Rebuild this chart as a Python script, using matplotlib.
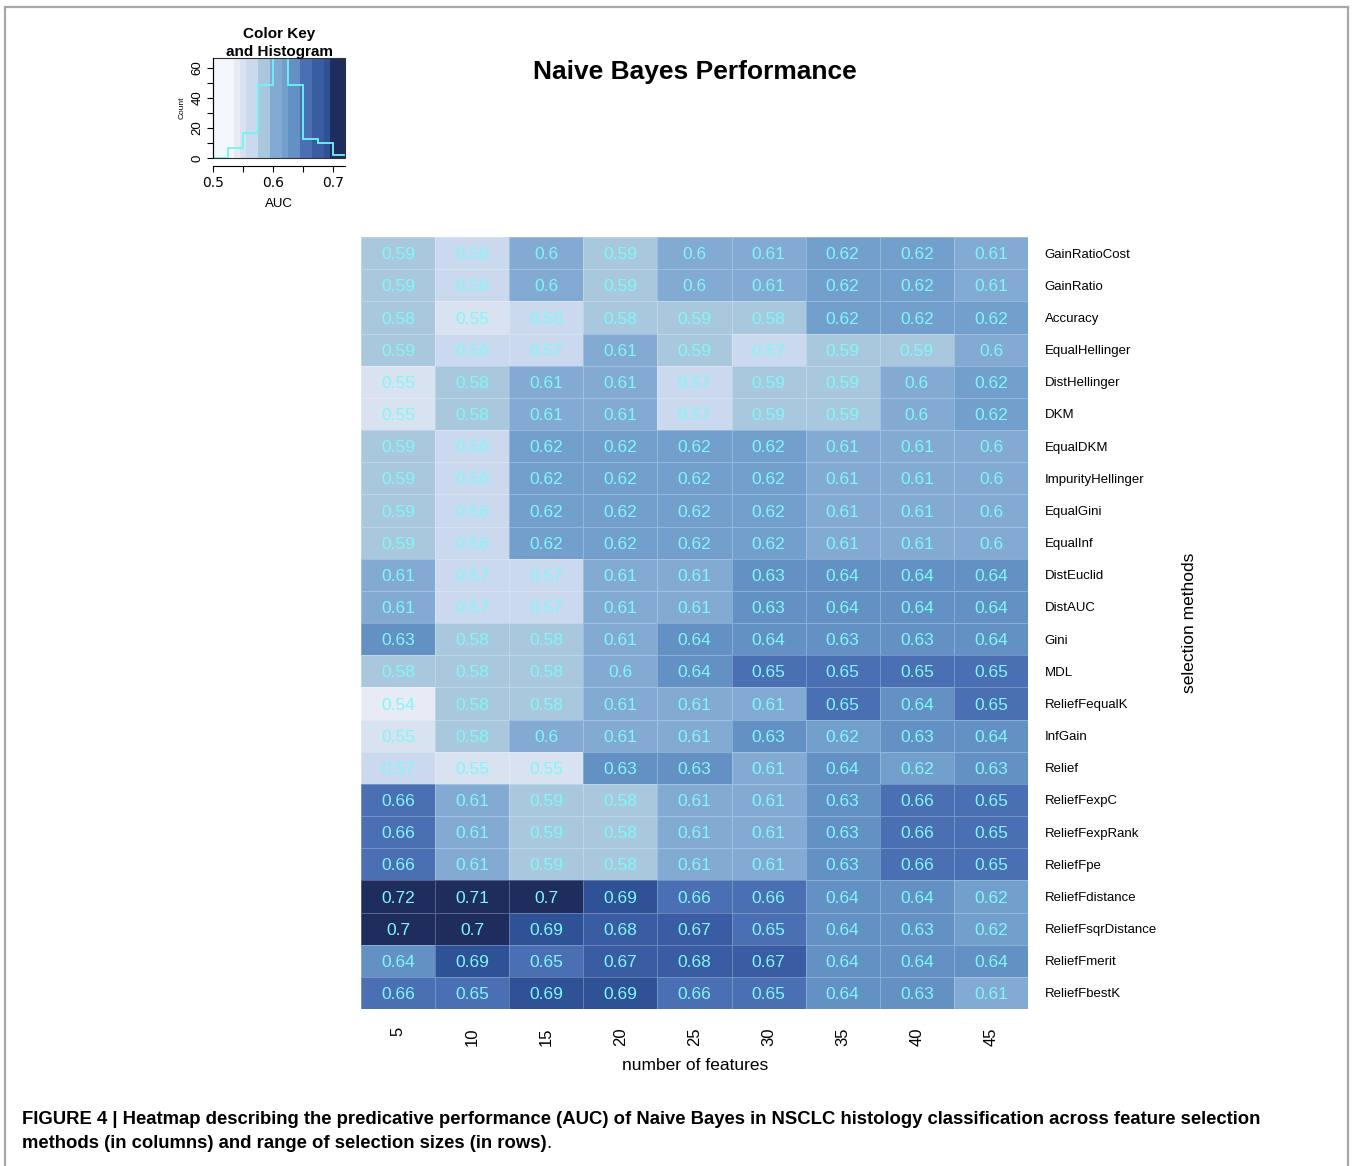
import numpy as np
import matplotlib.pyplot as plt
from matplotlib.colors import ListedColormap, BoundaryNorm
from matplotlib.lines import Line2D

# number of selected features (columns)
n_features = [5, 10, 15, 20, 25, 30, 35, 40, 45]

# feature selection methods (rows, top to bottom)
methods = ["GainRatioCost", "GainRatio", "Accuracy", "EqualHellinger",
           "DistHellinger", "DKM", "EqualDKM", "ImpurityHellinger",
           "EqualGini", "EqualInf", "DistEuclid", "DistAUC", "Gini", "MDL",
           "ReliefFequalK", "InfGain", "Relief", "ReliefFexpC",
           "ReliefFexpRank", "ReliefFpe", "ReliefFdistance",
           "ReliefFsqrDistance", "ReliefFmerit", "ReliefFbestK"]

# AUC of naive bayes per method / selection size
auc = [
    [0.59, 0.56, 0.60, 0.59, 0.60, 0.61, 0.62, 0.62, 0.61],
    [0.59, 0.56, 0.60, 0.59, 0.60, 0.61, 0.62, 0.62, 0.61],
    [0.58, 0.55, 0.56, 0.58, 0.59, 0.58, 0.62, 0.62, 0.62],
    [0.59, 0.56, 0.57, 0.61, 0.59, 0.57, 0.59, 0.59, 0.60],
    [0.55, 0.58, 0.61, 0.61, 0.57, 0.59, 0.59, 0.60, 0.62],
    [0.55, 0.58, 0.61, 0.61, 0.57, 0.59, 0.59, 0.60, 0.62],
    [0.59, 0.56, 0.62, 0.62, 0.62, 0.62, 0.61, 0.61, 0.60],
    [0.59, 0.56, 0.62, 0.62, 0.62, 0.62, 0.61, 0.61, 0.60],
    [0.59, 0.56, 0.62, 0.62, 0.62, 0.62, 0.61, 0.61, 0.60],
    [0.59, 0.56, 0.62, 0.62, 0.62, 0.62, 0.61, 0.61, 0.60],
    [0.61, 0.57, 0.57, 0.61, 0.61, 0.63, 0.64, 0.64, 0.64],
    [0.61, 0.57, 0.57, 0.61, 0.61, 0.63, 0.64, 0.64, 0.64],
    [0.63, 0.58, 0.58, 0.61, 0.64, 0.64, 0.63, 0.63, 0.64],
    [0.58, 0.58, 0.58, 0.60, 0.64, 0.65, 0.65, 0.65, 0.65],
    [0.54, 0.58, 0.58, 0.61, 0.61, 0.61, 0.65, 0.64, 0.65],
    [0.55, 0.58, 0.60, 0.61, 0.61, 0.63, 0.62, 0.63, 0.64],
    [0.57, 0.55, 0.55, 0.63, 0.63, 0.61, 0.64, 0.62, 0.63],
    [0.66, 0.61, 0.59, 0.58, 0.61, 0.61, 0.63, 0.66, 0.65],
    [0.66, 0.61, 0.59, 0.58, 0.61, 0.61, 0.63, 0.66, 0.65],
    [0.66, 0.61, 0.59, 0.58, 0.61, 0.61, 0.63, 0.66, 0.65],
    [0.72, 0.71, 0.70, 0.69, 0.66, 0.66, 0.64, 0.64, 0.62],
    [0.70, 0.70, 0.69, 0.68, 0.67, 0.65, 0.64, 0.63, 0.62],
    [0.64, 0.69, 0.65, 0.67, 0.68, 0.67, 0.64, 0.64, 0.64],
    [0.66, 0.65, 0.69, 0.69, 0.66, 0.65, 0.64, 0.63, 0.61],
]

# binned blue palette
breaks = [0.50, 0.535, 0.545, 0.555, 0.575, 0.595, 0.615, 0.625, 0.645,
          0.665, 0.685, 0.695, 0.725]
blues = ["#f4f7fc", "#e6ebf5", "#d9e2f1", "#cad9ed", "#a9c8de", "#82aad3",
         "#739fcd", "#6391c3", "#4a6fb3", "#3a5ca3", "#2f5196", "#1f2c5e"]
cmap = ListedColormap(blues)
norm = BoundaryNorm(breaks, cmap.N)

W, H = 1352, 1166
fig = plt.figure(figsize=(W / 100, H / 100), dpi=100)

def box(l, t, r, b):
    return [l / W, 1 - b / H, (r - l) / W, (b - t) / H]

# ---- heatmap
Z = np.array(auc)
ax = fig.add_axes(box(361, 237, 1028, 1009))
ax.pcolormesh(Z, cmap=cmap, norm=norm, edgecolors=(1, 1, 1, 0.25),
              linewidth=0.6)
ax.set_xlim(0, len(n_features))
ax.set_ylim(len(methods), 0)
for i in range(len(methods)):
    for j in range(len(n_features)):
        ax.text(j + 0.5, i + 0.55, f"{Z[i, j]:g}", ha="center", va="center",
                color="#7ef8f8", fontsize=12.5,
                family=["Liberation Sans Narrow", "Liberation Sans"])
ax.set_xticks(np.arange(len(n_features)) + 0.5)
ax.set_xticklabels([str(n) for n in n_features], rotation=90,
                   fontsize=12, family="Liberation Sans")
ax.yaxis.tick_right()
ax.set_yticks(np.arange(len(methods)) + 0.5)
ax.set_yticklabels(methods, fontsize=9.5, family="Liberation Sans")
ax.tick_params(axis="x", length=0, pad=13)
ax.tick_params(axis="y", length=0, pad=12)
for s in ax.spines.values():
    s.set_visible(False)

fig.text(695 / W, 1 - 1066 / H, "number of features", ha="center",
         va="center", fontsize=12.5, family="Liberation Sans")
fig.text(1190 / W, 1 - 623 / H, "selection methods", ha="center",
         va="center", rotation=90, fontsize=12.5, family="Liberation Sans")
fig.text(695 / W, 1 - 72 / H, "Naive Bayes Performance", ha="center",
         va="center", fontsize=19, fontweight="bold",
         family="Liberation Sans")

# ---- colour key with histogram (right-closed bins)
kx = fig.add_axes(box(213, 58, 345, 158))
grid = np.linspace(0.5, 0.72, 221)
kx.pcolormesh(grid, [0, 66.7], np.tile((grid[:-1] + grid[1:]) / 2, (1, 1)),
              cmap=cmap, norm=norm, shading="flat")
counts, edges = np.histogram(Z.ravel() - 1e-9,
                             bins=np.arange(0.5, 0.7251, 0.025))
kx.stairs(counts, edges, color="#6ff5f5", linewidth=1.3, baseline=None)
kx.set_xlim(0.5, 0.72)
kx.set_ylim(0, 66.7)
kx.set_xticks([0.5, 0.55, 0.6, 0.65, 0.7])
kx.set_xticklabels(["0.5", "", "0.6", "", "0.7"], fontsize=9.5,
                   family="Liberation Sans")
kx.set_yticks([0, 10, 20, 30, 40, 50, 60])
kx.set_yticklabels(["0", "", "20", "", "40", "", "60"], rotation=90,
                   va="center", fontsize=9.5, family="Liberation Sans")
kx.tick_params(length=4, width=0.8, pad=3)
kx.spines["bottom"].set_position(("outward", 6))
kx.spines["top"].set_visible(False)
kx.spines["right"].set_visible(False)
kx.add_patch(plt.Rectangle((0, 0), 1, 1, transform=kx.transAxes,
                           fill=False, edgecolor="#333333", linewidth=0.8,
                           clip_on=False))
kx.set_ylabel("Count", fontsize=6, family="Liberation Sans", labelpad=4)
kx.set_xlabel("AUC", fontsize=9.5, family="Liberation Sans", labelpad=6)
fig.text(279 / W, 1 - 43 / H, "Color Key\nand Histogram", ha="center",
         va="center", fontsize=11, fontweight="bold", linespacing=1.35,
         family="Liberation Sans")

# ---- frame and caption
frame = dict(color="#a8a8a8", linewidth=1.6, transform=fig.transFigure)
fig.add_artist(Line2D([5 / W, 5 / W], [0, 1 - 7 / H], **frame))
fig.add_artist(Line2D([5 / W, 1348 / W], [1 - 7 / H, 1 - 7 / H], **frame))
fig.add_artist(Line2D([1348 / W, 1348 / W], [0, 1 - 7 / H], **frame))

cap_font = ["Liberation Sans Narrow", "Liberation Sans"]
line1 = ("FIGURE 4 | Heatmap describing the predicative performance (AUC) of "
         "Naive Bayes in NSCLC histology classification across feature selection")
line2 = "methods (in columns) and range of selection sizes (in rows)"
t1 = fig.text(22 / W, 1 - 1119 / H, line1, ha="left", va="center",
              fontsize=14, fontweight="bold", family=cap_font)
t2 = fig.text(22 / W, 1 - 1144 / H, line2, ha="left", va="center",
              fontsize=14, fontweight="bold", family=cap_font)
renderer = fig.canvas.get_renderer()
scale = (1265 - 22) / t1.get_window_extent(renderer).width
t1.set_fontsize(14 * scale)
t2.set_fontsize(14 * scale)
end = t2.get_window_extent(renderer).x1
fig.text(end / W, 1 - 1144 / H, ".", ha="left", va="center",
         fontsize=14 * scale, family=cap_font)

fig.savefig("out.png", dpi=100)
